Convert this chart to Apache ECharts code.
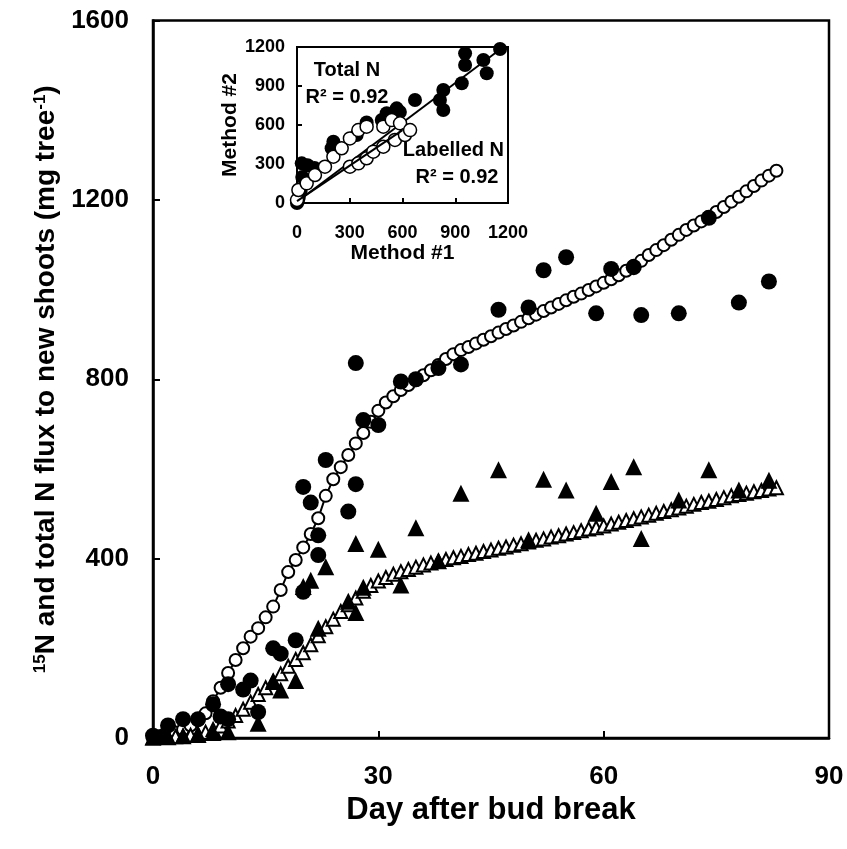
<!DOCTYPE html>
<html><head><meta charset="utf-8">
<script src="https://cdn.jsdelivr.net/npm/echarts@6/dist/echarts.min.js"></script>
<style>html,body{margin:0;padding:0;background:#fff}#c{width:847px;height:849px}</style>
</head><body><div id="c"></div>
<script>
// ---- main panel: daily model values (open symbols) ----
const days = [0,1,2,3,4,5,6,7,8,9,10,11,12,13,14,15,16,17,18,19,20,21,22,23,24,25,26,27,28,29,30,31,32,33,34,35,36,37,38,39,40,41,42,43,44,45,46,47,48,49,50,51,52,53,54,55,56,57,58,59,60,61,62,63,64,65,66,67,68,69,70,71,72,73,74,75,76,77,78,79,80,81,82,83];
const modelTotalN = [0,3,7,12,19,28,40,55,82,112,145,174,200,226,245,269,293,330,370,397,425,455,490,540,577,604,631,657,680,705,730,748,762,776,787,798,809,820,832,845,856,865,872,880,888,896,904,912,920,928,936,944,952,960,968,976,984,991,999,1007,1015,1023,1032,1042,1053,1064,1077,1088,1099,1111,1122,1133,1143,1152,1162,1173,1184,1196,1207,1219,1231,1243,1254,1265];
const modelLabelledN = [0,1,2,3,4,6,9,13,19,27,38,50,64,80,97,112,127,143,160,175,190,208,228,248,265,282,297,312,327,340,350,358,365,371,376,381,386,390,394,398,402,405,409,412,416,419,423,426,430,433,437,441,444,448,451,455,458,462,466,469,473,477,481,485,489,493,497,501,505,509,513,517,521,525,528,532,536,540,543,546,549,552,555,558];
// ---- main panel: measured values (filled symbols), [day, mg tree-1] ----
const measuredTotalN = [[0,5],[1,2],[2,28],[4,42],[6,42],[8,75],[9,48],[10,120],[10,42],[12,108],[13,128],[14,58],[16,200],[17,188],[19,218],[20,326],[20,560],[21,525],[22,452],[22,408],[23,620],[26,505],[27,566],[27,836],[28,709],[30,698],[33,795],[35,800],[38,825],[41,833],[46,955],[50,960],[52,1043],[55,1072],[59,947],[61,1046],[64,1050],[65,943],[70,947],[74,1160],[78,971],[82,1018]];
const measuredLabelledN = [[0,2],[2,3],[4,5],[6,8],[8,12],[10,14],[14,33],[16,126],[17,107],[19,128],[20,338],[21,352],[22,245],[23,382],[26,305],[27,280],[27,434],[28,336],[30,421],[33,341],[35,469],[38,395],[41,546],[46,598],[50,442],[52,577],[55,553],[59,501],[61,572],[64,605],[65,445],[70,531],[74,598],[78,553],[82,575]];
// ---- inset: Method #1 vs Method #2 ----
const insetTotalN = [[0,0],[5,15],[10,40],[20,90],[30,200],[27,305],[60,290],[100,270],[197,421],[207,472],[339,523],[396,620],[482,638],[510,690],[567,728],[585,700],[671,792],[813,792],[832,869],[832,715],[937,921],[956,1062],[956,1151],[1060,1100],[1079,998],[1155,1185]];
const insetLabelledN = [[0,23],[8,100],[55,151],[102,215],[159,279],[207,356],[254,421],[301,497],[349,561],[396,587],[491,587],[539,638],[586,613],[301,279],[349,305],[396,344],[434,395],[491,433],[557,485],[614,523],[643,561]];
const insetTotalFit = [[0,10],[1160,1186]];
const insetLabelledFit = [[0,15],[600,560]];
const mainX = {min:0, max:90, interval:30};
const mainY = {min:0, max:1600, interval:400};
const insetAx = {min:0, max:1200, interval:300};

const FF = '"Liberation Sans", Arial, sans-serif';
const bold = (s)=>({fontFamily:FF, fontWeight:'bold', fontSize:s, color:'#000'});
const plain = (v)=>String(v);
const chart = echarts.init(document.getElementById('c'), null, {renderer:'canvas'});
const pairs = (xs, ys)=>xs.map((d,i)=>[d, ys[i]]);

chart.setOption({
  animation:false,
  backgroundColor:'#fff',
  grid:[
    {left:153, right:18, top:20.5, bottom:111, show:true, borderColor:'#000', borderWidth:2.5, backgroundColor:'transparent'},
    {left:297, right:339, top:47, bottom:646, show:true, borderColor:'#000', borderWidth:2, backgroundColor:'#fff'}
  ],
  xAxis:[
    {gridIndex:0, type:'value', min:mainX.min, max:mainX.max, interval:mainX.interval,
     axisLine:{lineStyle:{color:'#000', width:2.5}}, axisTick:{inside:true, length:7, lineStyle:{color:'#000', width:2}},
     axisLabel:Object.assign(bold(26), {margin:26, formatter:plain}), splitLine:{show:false},
     name:'Day after bud break', nameLocation:'middle', nameGap:47, nameTextStyle:bold(31)},
    {gridIndex:1, type:'value', min:insetAx.min, max:insetAx.max, interval:insetAx.interval,
     axisLine:{lineStyle:{color:'#000', width:2}}, axisTick:{inside:true, length:5, lineStyle:{color:'#000', width:2}},
     axisLabel:Object.assign(bold(18), {margin:21, formatter:plain}), splitLine:{show:false},
     name:'Method #1', nameLocation:'middle', nameGap:40, nameTextStyle:bold(21)}
  ],
  yAxis:[
    {gridIndex:0, type:'value', min:mainY.min, max:mainY.max, interval:mainY.interval,
     axisLine:{lineStyle:{color:'#000', width:2.5}}, axisTick:{inside:true, length:7, lineStyle:{color:'#000', width:2}},
     axisLabel:Object.assign(bold(26), {margin:24, formatter:plain}), splitLine:{show:false},
     name:'{s|15}N and total N flux to new shoots (mg tree{s|-1})', nameLocation:'middle', nameGap:92,
     nameTextStyle:Object.assign(bold(28), {rich:{s:{fontFamily:FF, fontWeight:'bold', fontSize:17, color:'#000', verticalAlign:'top'}}})},
    {gridIndex:1, type:'value', min:insetAx.min, max:insetAx.max, interval:insetAx.interval,
     axisLine:{lineStyle:{color:'#000', width:2}}, axisTick:{inside:true, length:5, lineStyle:{color:'#000', width:2}},
     axisLabel:Object.assign(bold(18), {margin:12, formatter:plain}), splitLine:{show:false},
     name:'Method #2', nameLocation:'middle', nameGap:53, nameTextStyle:bold(21)}
  ],
  graphic:[
    {type:'text', z:1, style:{text:'Total N', x:347, y:70, align:'center', verticalAlign:'middle', font:'bold 20px '+FF, fill:'#000'}},
    {type:'text', z:1, style:{text:'R² = 0.92', x:347, y:97, align:'center', verticalAlign:'middle', font:'bold 20px '+FF, fill:'#000'}},
    {type:'text', z:1, style:{text:'Labelled N', x:504, y:150, align:'right', verticalAlign:'middle', font:'bold 20px '+FF, fill:'#000'}},
    {type:'text', z:1, style:{text:'R² = 0.92', x:457, y:177, align:'center', verticalAlign:'middle', font:'bold 20px '+FF, fill:'#000'}}
  ],
  series:[
    {type:'line', xAxisIndex:0, yAxisIndex:0, data:pairs(days, modelTotalN), symbol:'circle', symbolSize:12, showAllSymbol:true,
     itemStyle:{color:'#fff', borderColor:'#000', borderWidth:2, opacity:1}, lineStyle:{color:'#000', width:2}, z:2},
    {type:'line', xAxisIndex:0, yAxisIndex:0, data:pairs(days, modelLabelledN), symbol:'triangle', symbolSize:13, showAllSymbol:true,
     itemStyle:{color:'#fff', borderColor:'#000', borderWidth:2, opacity:1}, lineStyle:{color:'#000', width:2}, z:2},
    {type:'scatter', xAxisIndex:0, yAxisIndex:0, data:measuredTotalN, symbol:'circle', symbolSize:16, itemStyle:{color:'#000', opacity:1}, z:3},
    {type:'scatter', xAxisIndex:0, yAxisIndex:0, data:measuredLabelledN, symbol:'triangle', symbolSize:17, itemStyle:{color:'#000', opacity:1}, z:4},
    {type:'line', xAxisIndex:1, yAxisIndex:1, data:insetTotalFit, symbol:'none', lineStyle:{color:'#000', width:2}, z:5},
    {type:'scatter', xAxisIndex:1, yAxisIndex:1, data:insetTotalN, symbol:'circle', symbolSize:14, itemStyle:{color:'#000', opacity:1}, z:5},
    {type:'scatter', xAxisIndex:1, yAxisIndex:1, data:insetLabelledN, symbol:'circle', symbolSize:13, itemStyle:{color:'#fff', borderColor:'#000', borderWidth:1.5, opacity:1}, z:6},
    {type:'line', xAxisIndex:1, yAxisIndex:1, data:insetLabelledFit, symbol:'none', lineStyle:{color:'#000', width:2}, z:7}
  ]
});
</script></body></html>
